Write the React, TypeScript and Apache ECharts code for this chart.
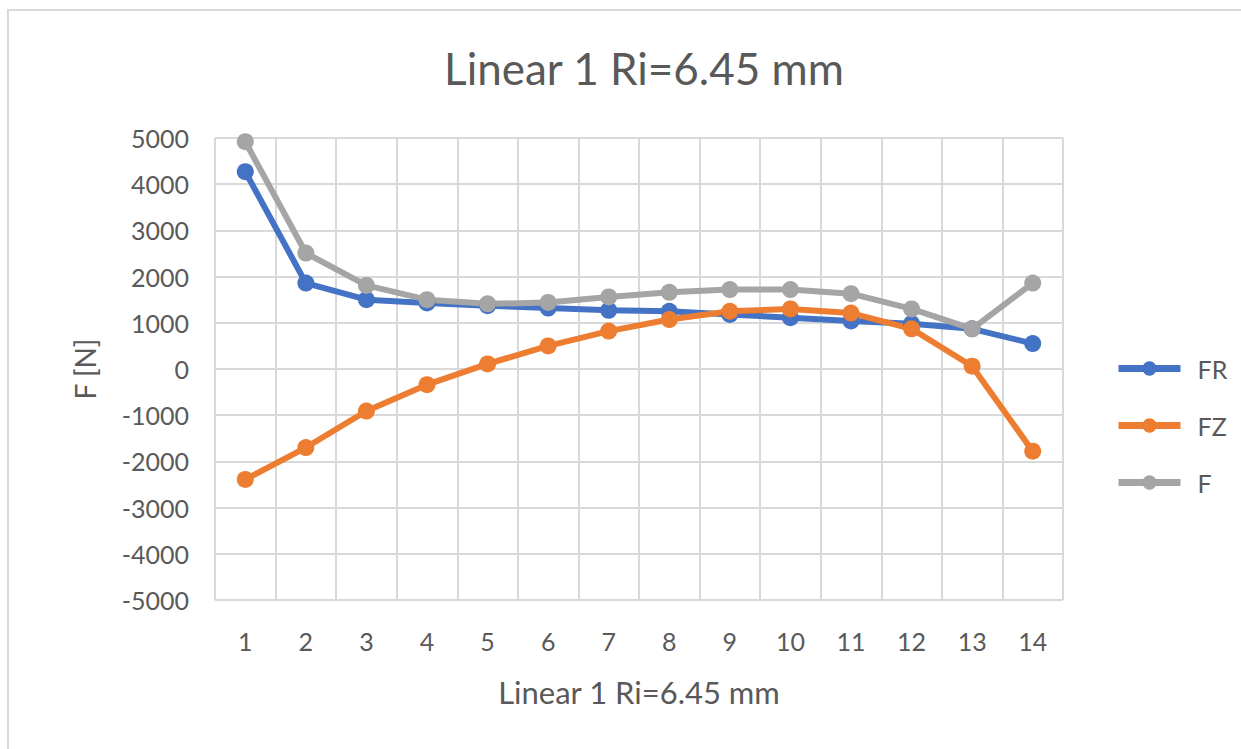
import React, { useEffect, useRef } from "react";
import * as echarts from "echarts";

const categories = ["1", "2", "3", "4", "5", "6", "7", "8", "9", "10", "11", "12", "13", "14"];
const FR = [4270, 1860, 1500, 1430, 1370, 1320, 1270, 1250, 1180, 1110, 1040, 980, 870, 550];
const FZ = [-2390, -1700, -910, -340, 110, 500, 820, 1070, 1250, 1300, 1210, 870, 60, -1780];
const F = [4920, 2510, 1810, 1500, 1410, 1440, 1560, 1660, 1720, 1720, 1630, 1300, 870, 1860];
const titleText = "Linear 1 Ri=6.45 mm";
const xAxisName = "Linear 1 Ri=6.45 mm";
const yAxisName = "F [N]";

const FONT = "Lato, 'Open Sans', sans-serif";
const TXT = "#595959";

export default function App() {
  const ref = useRef<HTMLDivElement>(null);
  useEffect(() => {
    const chart = echarts.init(ref.current!, null, { renderer: "svg" });
    const mk = (name: string, data: number[], color: string) => ({
      name,
      type: "line",
      data,
      symbol: "circle",
      symbolSize: 17,
      lineStyle: { width: 6, color },
      itemStyle: { color },
      color,
    });
    chart.setOption({
      animation: false,
      backgroundColor: "#fff",
      textStyle: { fontFamily: FONT },
      graphic: [
        {
          type: "rect",
          shape: { x: 8, y: 10, width: 1300, height: 800 },
          style: { fill: "none", stroke: "#d9d9d9", lineWidth: 2 },
          silent: true,
        },
      ],
      title: {
        text: titleText,
        left: 639,
        top: 41,
        textAlign: "center",
        textStyle: { fontFamily: FONT, fontSize: 44, fontWeight: "normal", color: TXT },
      },
      legend: {
        orient: "vertical",
        left: 1110,
        top: 351,
        itemWidth: 62,
        itemHeight: 18,
        itemGap: 32,
        lineStyle: { width: 7 },
        textStyle: { fontFamily: FONT, fontSize: 25, color: TXT, padding: [0, 0, 0, 12] },
        data: ["FR", "FZ", "F"],
      },
      grid: { left: 215, right: 178, top: 138, bottom: 149 },
      xAxis: {
        type: "category",
        data: categories,
        boundaryGap: true,
        name: xAxisName,
        nameLocation: "middle",
        nameGap: 76,
        nameTextStyle: { fontFamily: FONT, fontSize: 31, color: TXT },
        axisLine: { show: false },
        axisTick: { show: false },
        axisLabel: { fontFamily: FONT, fontSize: 25, color: TXT, margin: 28 },
        splitLine: { show: true, interval: 0, lineStyle: { color: "#d9d9d9", width: 2 } },
      },
      yAxis: {
        type: "value",
        min: -5000,
        max: 5000,
        interval: 1000,
        name: yAxisName,
        nameLocation: "middle",
        nameGap: 116,
        nameTextStyle: { fontFamily: FONT, fontSize: 28, color: TXT },
        axisLine: { show: false },
        axisTick: { show: false },
        axisLabel: {
          fontFamily: FONT,
          fontSize: 25,
          color: TXT,
          margin: 26,
          formatter: (v: number) => String(v),
        },
        splitLine: { show: true, lineStyle: { color: "#d9d9d9", width: 2 } },
      },
      series: [mk("FR", FR, "#4472C4"), mk("FZ", FZ, "#ED7D31"), mk("F", F, "#A5A5A5")],
    });
    return () => chart.dispose();
  }, []);
  return (
    <div
      ref={ref}
      style={{ position: "absolute", left: 0, top: 0, width: 1241, height: 749 }}
    />
  );
}
